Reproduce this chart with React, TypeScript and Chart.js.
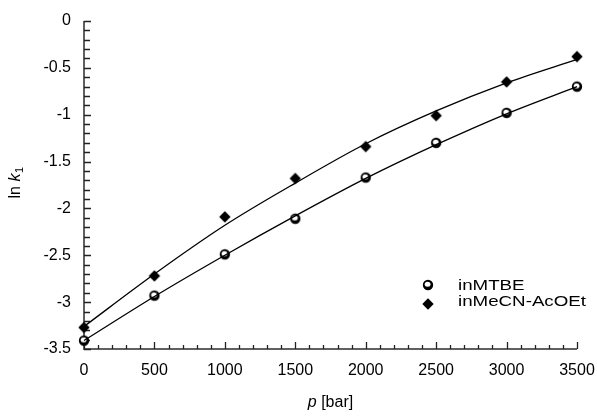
import React, { useEffect, useRef } from "react";
import { Chart, registerables } from "chart.js";

Chart.register(...registerables);

const pressures = [0, 500, 1000, 1500, 2000, 2500, 3000, 3500];
const mtbeValues = [-3.41, -2.93, -2.49, -2.11, -1.67, -1.3, -0.98, -0.7];
const mecnValues = [-3.27, -2.72, -2.09, -1.68, -1.34, -1.01, -0.65, -0.38];
const mtbeFit = [-3.41, -2.94, -2.5, -2.08, -1.68, -1.32, -0.99, -0.7];
const mecnFit = [-3.26, -2.7, -2.18, -1.73, -1.31, -0.96, -0.66, -0.41];
const xTickLabels = ["0", "500", "1000", "1500", "2000", "2500", "3000", "3500"];
const yTickLabels = ["0", "-0.5", "-1", "-1.5", "-2", "-2.5", "-3", "-3.5"];
const seriesNames = ["inMTBE", "inMeCN-AcOEt"];

const FONT = "'Liberation Sans', Arial, sans-serif";

function makeMtbeMarker(): HTMLCanvasElement {
  const c = document.createElement("canvas");
  c.width = 14;
  c.height = 14;
  const g = c.getContext("2d")!;
  g.fillStyle = "#000";
  g.beginPath();
  g.arc(7, 7, 5.2, 0, Math.PI * 2);
  g.fill();
  g.fillStyle = "#fff";
  g.beginPath();
  g.ellipse(6.6, 6.2, 2.9, 2.5, 0, 0, Math.PI * 2);
  g.fill();
  return c;
}

function makeDiamondMarker(): HTMLCanvasElement {
  const c = document.createElement("canvas");
  c.width = 14;
  c.height = 14;
  const g = c.getContext("2d")!;
  g.fillStyle = "#000";
  g.beginPath();
  g.moveTo(7, 1.3);
  g.lineTo(12.7, 7);
  g.lineTo(7, 12.7);
  g.lineTo(1.3, 7);
  g.closePath();
  g.fill();
  return c;
}

export default function App() {
  const ref = useRef<HTMLCanvasElement | null>(null);

  useEffect(() => {
    document.body.style.margin = "0";
    const canvas = ref.current;
    if (!canvas) return;
    const mtbeMarker = makeMtbeMarker();
    const diamondMarker = makeDiamondMarker();

    const decor = {
      id: "decor",
      beforeDatasetsDraw(chart: any) {
        const ctx = chart.ctx as CanvasRenderingContext2D;
        const xs = chart.scales.x;
        const ys = chart.scales.y;
        const area = chart.chartArea;
        ctx.save();
        ctx.strokeStyle = "#606060";
        ctx.lineWidth = 2;
        ctx.beginPath();
        ctx.moveTo(area.left, area.top);
        ctx.lineTo(area.left, area.bottom);
        ctx.lineTo(area.right, area.bottom);
        ctx.stroke();
        ctx.lineWidth = 1.3;
        ctx.strokeStyle = "#222";
        ctx.beginPath();
        for (let i = 0; i <= 35; i++) {
          const px = Math.round(xs.getPixelForValue(i * 100)) + 0.5;
          const len = i % 5 === 0 ? 7 : 4;
          ctx.moveTo(px, area.bottom);
          ctx.lineTo(px, area.bottom - len);
        }
        for (let i = 0; i <= 35; i++) {
          const py = Math.round(ys.getPixelForValue(-i / 10)) + 0.5;
          const len = i % 5 === 0 ? 7 : 6;
          ctx.moveTo(area.left, py);
          ctx.lineTo(area.left + len, py);
        }
        ctx.stroke();
        ctx.restore();
      },
      afterDraw(chart: any) {
        const ctx = chart.ctx as CanvasRenderingContext2D;
        const area = chart.chartArea;
        ctx.save();
        // x title
        ctx.fillStyle = "#000";
        ctx.textBaseline = "middle";
        const cx = (area.left + area.right) / 2;
        ctx.font = `italic 16px ${FONT}`;
        const wp = ctx.measureText("p").width;
        ctx.font = `16px ${FONT}`;
        const wb = ctx.measureText(" [bar]").width;
        const sx = cx - (wp + wb) / 2;
        ctx.font = `italic 16px ${FONT}`;
        ctx.textAlign = "left";
        ctx.fillText("p", sx, 403);
        ctx.font = `16px ${FONT}`;
        ctx.fillText(" [bar]", sx + wp, 403);

        // y title
        ctx.save();
        ctx.translate(16, 183);
        ctx.rotate(-Math.PI / 2);
        ctx.font = `16px ${FONT}`;
        const wl = ctx.measureText("ln ").width;
        ctx.font = `italic 16px ${FONT}`;
        const wk = ctx.measureText("k").width;
        ctx.font = `11px ${FONT}`;
        const w1 = ctx.measureText("1").width;
        const tx = -(wl + wk + w1) / 2;
        ctx.font = `16px ${FONT}`;
        ctx.fillText("ln ", tx, 0);
        ctx.font = `italic 16px ${FONT}`;
        ctx.fillText("k", tx + wl, 0);
        ctx.font = `11px ${FONT}`;
        ctx.fillText("1", tx + wl + wk + 0.5, 4);
        ctx.restore();

        // legend
        ctx.font = `15px ${FONT}`;
        ctx.textAlign = "left";
        ctx.textBaseline = "middle";
        const wide = ctx.measureText(seriesNames[1]).width;
        const stretch = 128 / wide;
        ctx.drawImage(mtbeMarker, 428 - 7, 285 - 7);
        ctx.drawImage(diamondMarker, 428 - 7, 304 - 7);
        const rows = [286, 302];
        seriesNames.forEach((name, i) => {
          ctx.save();
          ctx.translate(458, rows[i]);
          ctx.scale(stretch, 1);
          ctx.fillText(name, 0, 0);
          ctx.restore();
        });
        ctx.restore();
      },
    };

    const chart = new Chart(canvas, {
      type: "line",
      data: {
        datasets: [
          {
            label: seriesNames[0] + " fit",
            data: pressures.map((p, i) => ({ x: p, y: mtbeFit[i] })),
            borderColor: "#000",
            borderWidth: 1.3,
            pointRadius: 0,
            cubicInterpolationMode: "monotone",
            fill: false,
            clip: false,
          },
          {
            label: seriesNames[1] + " fit",
            data: pressures.map((p, i) => ({ x: p, y: mecnFit[i] })),
            borderColor: "#000",
            borderWidth: 1.3,
            pointRadius: 0,
            cubicInterpolationMode: "monotone",
            fill: false,
            clip: false,
          },
          {
            label: seriesNames[0],
            data: pressures.map((p, i) => ({ x: p, y: mtbeValues[i] })),
            showLine: false,
            pointStyle: mtbeMarker,
            pointRadius: 6,
            clip: false,
          },
          {
            label: seriesNames[1],
            data: pressures.map((p, i) => ({ x: p, y: mecnValues[i] })),
            showLine: false,
            pointStyle: diamondMarker,
            pointRadius: 6,
            clip: false,
          },
        ],
      },
      options: {
        responsive: false,
        animation: false,
        layout: { padding: { top: 21, right: 20, left: 0, bottom: 0 } },
        plugins: {
          legend: { display: false },
          tooltip: { enabled: false },
        },
        scales: {
          x: {
            type: "linear",
            min: 0,
            max: 3500,
            grid: { display: false, drawTicks: false },
            border: { display: false },
            ticks: {
              stepSize: 500,
              padding: 12,
              color: "#000",
              font: { family: FONT, size: 16 },
              maxRotation: 0,
              callback: (v: any) => {
                const idx = pressures.indexOf(Number(v));
                return idx >= 0 ? xTickLabels[idx] : "";
              },
            },
            afterFit: (s: any) => {
              s.height = 67;
              s.paddingLeft = 0;
              s.paddingRight = 0;
            },
          },
          y: {
            type: "linear",
            min: -3.5,
            max: 0,
            grid: { display: false, drawTicks: false },
            border: { display: false },
            ticks: {
              stepSize: 0.5,
              padding: 13,
              color: "#000",
              font: { family: FONT, size: 16 },
              callback: (v: any) => {
                const idx = Math.round(-Number(v) / 0.5);
                return yTickLabels[idx] ?? "";
              },
            },
            afterFit: (s: any) => {
              s.width = 84;
              s.paddingTop = 0;
              s.paddingBottom = 0;
            },
          },
        },
      },
      plugins: [decor],
    } as any);

    return () => chart.destroy();
  }, []);

  return (
    <div style={{ width: 597, height: 416 }}>
      <canvas ref={ref} width={597} height={416} style={{ display: "block" }} />
    </div>
  );
}
